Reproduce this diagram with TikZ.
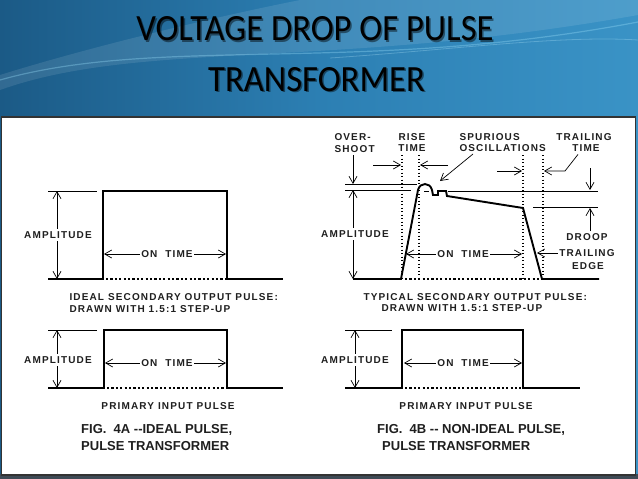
\documentclass[tikz,border=0pt]{standalone}
\usepackage{fontspec}
\setmainfont{Liberation Sans}
\newfontfamily\lblfont[LetterSpace=11.5]{Liberation Sans}
\newfontfamily\titlefont{Carlito}
\usetikzlibrary{arrows.meta}
\definecolor{bgA}{HTML}{1B5A86}
\definecolor{bgB}{HTML}{2C7FB3}
\definecolor{bgC}{HTML}{3A93C6}
\definecolor{strip}{HTML}{3E4A55}
\tikzset{
  wave/.style={line width=1.9pt, line join=miter, line cap=butt},
  dimln/.style={line width=0.7pt},
  dimarr/.style={line width=0.7pt, -{Straight Barb[length=7pt,width=8pt]}},
  dotv/.style={line width=1.3pt, dash pattern=on 1.3pt off 2.2pt},
  dotb/.style={line width=1.5pt, dash pattern=on 2.2pt off 2.2pt},
  lbl/.style={font=\lblfont\bfseries\fontsize{10}{11}\selectfont, text=black!88, inner sep=0pt, outer xsep=1.5pt, outer ysep=3pt},
  figcap/.style={font=\bfseries\fontsize{13}{14}\selectfont, text=black!88, inner sep=0pt, anchor=west},
  ttl/.style={font=\titlefont\fontsize{37}{40}\selectfont, xscale=0.936, anchor=base, inner sep=0pt},
}
\begin{document}
\begin{tikzpicture}[x=1pt,y=-1pt]
\useasboundingbox (0,0) rectangle (638,479);
% background
\fill[left color=bgA, right color=bgC, middle color=bgB] (0,0) rectangle (638,479);
\fill[white, opacity=0.10] (0,90) .. controls (140,40) and (330,70) .. (638,15) -- (638,0) -- (300,0) .. controls (200,20) and (80,50) .. (0,75) -- cycle;
\draw[cyan!40, opacity=0.35, line width=1.2pt] (0,80) .. controls (160,35) and (360,75) .. (638,22);
\draw[cyan!30, opacity=0.30, line width=0.8pt] (330,58) .. controls (450,50) and (560,35) .. (638,40);
% title
\node[ttl, text=black, opacity=0.45] at (316.5,42.5) {VOLTAGE DROP OF PULSE};
\node[ttl, text=black] (t1) at (315,41) {VOLTAGE DROP OF PULSE};
\node[ttl, text=black, opacity=0.45] at (318,92.5) {TRANSFORMER};
\node[ttl, text=black] (t2) at (316.5,91) {TRANSFORMER};
% panel
\fill[strip] (0,474) rectangle (638,479);
\draw[fill=white, draw=black!80, line width=1.2pt] (1.5,117) rectangle (635.5,475);

% ================= LEFT TOP =================
\draw[wave] (48,279) -- (103,279) -- (103,191) -- (227,191) -- (227,279) -- (283,279);
\draw[dotb] (106,279) -- (225,279);
\draw[dimln] (48,191) -- (97,191);
\coordinate (a1t) at (57,191);
\coordinate (a1b) at (57,279);
\node[lbl] (ampA) at (58,235) {AMPLITUDE};
\draw[dimarr] (ampA.north -| a1t) -- (a1t);
\draw[dimarr] (ampA.south -| a1b) -- (a1b);
\coordinate (o1l) at (104,254);
\coordinate (o1r) at (226,254);
\node[lbl] (onA) at (167,254) {ON\ \ TIME};
\draw[dimarr] (onA.west) -- (o1l);
\draw[dimarr] (onA.east) -- (o1r);
\node[lbl, anchor=west] (capA1) at (68,297) {IDEAL SECONDARY OUTPUT PULSE:};
\node[lbl, anchor=west] (capA2) at (68,309) {DRAWN WITH 1.5:1 STEP-UP};

% ================= LEFT BOTTOM =================
\draw[wave] (48,388) -- (104,388) -- (104,330) -- (227,330) -- (227,388) -- (283,388);
\draw[dotb] (107,388) -- (225,388);
\draw[dimln] (48,330) -- (97,330);
\coordinate (a2t) at (57,330);
\coordinate (a2b) at (57,388);
\node[lbl] (ampB) at (58,360) {AMPLITUDE};
\draw[dimarr] (ampB.north -| a2t) -- (a2t);
\draw[dimarr] (ampB.south -| a2b) -- (a2b);
\coordinate (o2l) at (105,363);
\coordinate (o2r) at (226,363);
\node[lbl] (onB) at (167,363) {ON\ \ TIME};
\draw[dimarr] (onB.west) -- (o2l);
\draw[dimarr] (onB.east) -- (o2r);
\node[lbl] (primA) at (168,406) {PRIMARY INPUT PULSE};
\node[figcap] (figA1) at (81,430) {FIG.\ \ 4A -{}-IDEAL PULSE,};
\node[figcap] (figA2) at (81,446) {PULSE TRANSFORMER};

% ================= RIGHT TOP =================
% reference lines
\draw[dimln] (345,184) -- (417,184);
\draw[dimln] (345,190) -- (411,190);
\draw[dimln] (424,191) -- (429,191);
\draw[dimln] (448,191) -- (598,191);
\draw[dimln] (533,207) -- (598,207);
% dotted verticals
\draw[dotv] (402,155) -- (402,279);
\draw[dotv] (419,155) -- (419,279);
\draw[dotv] (523,155) -- (523,279);
\draw[dotv] (543,155) -- (543,279);
% waveform
\draw[wave] (353,279) -- (401,279) -- (418,190)
  .. controls (420,182) and (430,182) .. (432,190) -- (433,195) -- (438,195) -- (438,191) -- (446,191) -- (447,196)
  -- (523,208) -- (542,279) -- (599,279);
\draw[dotb] (405,279) -- (540,279);
% labels top
\node[lbl, anchor=west] (over) at (333,137) {OVER-};
\node[lbl, anchor=west] (shoot) at (333,149) {SHOOT};
\node[lbl] (rise) at (412,137) {RISE};
\node[lbl] (riseT) at (412,148) {TIME};
\node[lbl, anchor=west] (spur) at (458,137) {SPURIOUS};
\node[lbl, anchor=west] (osc) at (458,148) {OSCILLATIONS};
\node[lbl] (trail) at (584,137) {TRAILING};
\node[lbl] (trailT) at (586,148) {TIME};
% overshoot / amplitude arrows
\coordinate (osA) at (353,155);
\coordinate (osB) at (353,184);
\draw[dimarr] (osA) -- (osB);
\coordinate (a3t) at (353,190);
\coordinate (a3b) at (353,279);
\node[lbl] (ampC) at (355,234) {AMPLITUDE};
\draw[dimarr] (ampC.north -| a3t) -- (a3t);
\draw[dimarr] (ampC.south -| a3b) -- (a3b);
% rise time arrows
\coordinate (rl0) at (373,165); \coordinate (rl1) at (401,165);
\coordinate (rr0) at (448,165); \coordinate (rr1) at (420,165);
\draw[dimarr] (rl0) -- (rl1);
\draw[dimarr] (rr0) -- (rr1);
% spurious arrow
\coordinate (sp1) at (440,181);
\draw[dimarr] (473,154) -- (sp1);
% trailing time arrows
\coordinate (tl0) at (497,171); \coordinate (tl1) at (522,171);
\draw[dimarr] (tl0) -- (tl1);
\coordinate (tr1) at (544,171);
\draw[dimarr] (trailT.south) ++(-8,0) -- (565,171) -- (tr1);
% droop
\coordinate (d0) at (590,168); \coordinate (d1) at (590,190);
\coordinate (d2) at (590,231); \coordinate (d3) at (590,208);
\draw[dimarr] (d0) -- (d1);
\draw[dimarr] (d2) -- (d3);
\node[lbl] (droop) at (587,237) {DROOP};
% on time
\coordinate (o3l) at (406,254);
\coordinate (o3r) at (522,254);
\node[lbl] (onC) at (463,254) {ON\ \ TIME};
\draw[dimarr] (onC.west) -- (o3l);
\draw[dimarr] (onC.east) -- (o3r);
% trailing edge
\node[lbl] (tedge) at (587,253) {TRAILING};
\node[lbl] (tedge2) at (588,266) {EDGE};
\coordinate (te) at (537,253);
\draw[dimarr] (tedge.west) -- (te);
\node[lbl, anchor=west] (capC1) at (362,297) {TYPICAL SECONDARY OUTPUT PULSE:};
\node[lbl, anchor=west] (capC2) at (380,308) {DRAWN WITH 1.5:1 STEP-UP};

% ================= RIGHT BOTTOM =================
\draw[wave] (345,388) -- (402,388) -- (402,330) -- (523,330) -- (523,388) -- (580,388);
\draw[dotb] (405,388) -- (521,388);
\draw[dimln] (345,330) -- (392,330);
\coordinate (a4t) at (355,330);
\coordinate (a4b) at (355,388);
\node[lbl] (ampD) at (355,360) {AMPLITUDE};
\draw[dimarr] (ampD.north -| a4t) -- (a4t);
\draw[dimarr] (ampD.south -| a4b) -- (a4b);
\coordinate (o4l) at (404,363);
\coordinate (o4r) at (522,363);
\node[lbl] (onD) at (463,363) {ON\ \ TIME};
\draw[dimarr] (onD.west) -- (o4l);
\draw[dimarr] (onD.east) -- (o4r);
\node[lbl] (primB) at (466,406) {PRIMARY INPUT PULSE};
\node[figcap] (figB1) at (377,430) {FIG.\ \ 4B -{}- NON-IDEAL PULSE,};
\node[figcap] (figB2) at (382,446) {PULSE TRANSFORMER};
\end{tikzpicture}
\end{document}
